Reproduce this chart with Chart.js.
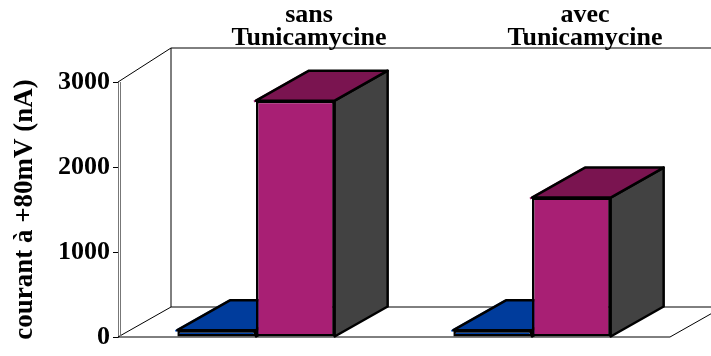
<!DOCTYPE html>
<html>
<head>
<meta charset="utf-8">
<title>courant à +80mV</title>
<script src="https://cdn.jsdelivr.net/npm/chart.js@4.4.0/dist/chart.umd.min.js"></script>
<style>
  html, body { margin: 0; padding: 0; background: #fff; }
  #wrap { width: 711px; height: 356px; position: relative; }
</style>
</head>
<body>
<div id="wrap"><canvas id="myChart"></canvas></div>
<script>
'use strict'

// data
const categories = [['sans', 'Tunicamycine'], ['avec', 'Tunicamycine']];
const blueValues = [80, 80];
const pinkValues = [2780, 1640];
const yTicks = [0, 1000, 2000, 3000];

// depth of the 3d box
const depthX = 53;
const depthY = -30;
const wallRise = -34;

const serif = '"Liberation Serif", "Times New Roman", serif';

const faceColors = [
    { front: '#0042a8', top: '#003c9c', side: '#00348a', edge: '#1a62d6' },
    { front: '#a81f74', top: '#7a1450', side: '#424242', edge: '#a81f74' }
];

function poly(ctx, pts) {
    ctx.beginPath();
    ctx.moveTo(pts[0][0], pts[0][1]);
    for (let i = 1; i < pts.length; i++) ctx.lineTo(pts[i][0], pts[i][1]);
    ctx.closePath();
}

function line(ctx, x1, y1, x2, y2) {
    ctx.beginPath();
    ctx.moveTo(x1, y1);
    ctx.lineTo(x2, y2);
    ctx.stroke();
}

// walls, floor and the top / side faces of every bar
const box3d = {
    id: 'box3d',
    beforeDatasetsDraw(chart) {
        const ctx = chart.ctx;
        const a = chart.chartArea;
        const W = chart.width;
        ctx.save();
        ctx.strokeStyle = '#000';
        ctx.lineWidth = 1;
        // back wall
        line(ctx, a.left, a.top, a.left + depthX, a.top + wallRise);
        line(ctx, a.left + depthX, a.top + wallRise, W, a.top + wallRise);
        line(ctx, a.left + depthX, a.top + wallRise, a.left + depthX, a.bottom + depthY);
        // floor
        line(ctx, a.left + depthX, a.bottom + depthY, W, a.bottom + depthY);
        line(ctx, a.left, a.bottom, a.left + depthX, a.bottom + depthY);
        line(ctx, a.left, a.bottom, a.right, a.bottom);
        line(ctx, a.right, a.bottom, a.right + depthX, a.bottom + depthY);
        // second line of the axis
        ctx.strokeStyle = '#777';
        line(ctx, a.left + 2.5, a.top, a.left + 2.5, a.bottom);

        // depth faces, left to right
        const n = chart.data.labels.length;
        for (let j = 0; j < n; j++) {
            chart.data.datasets.forEach((ds, i) => {
                const bar = chart.getDatasetMeta(i).data[j];
                if (!bar) return;
                const p = bar.getProps(['x', 'y', 'base', 'width'], true);
                const l = p.x - p.width / 2, r = p.x + p.width / 2;
                const t = p.y, b = p.base;
                const c = faceColors[i];
                ctx.lineJoin = 'round';
                // coloured offset edge
                ctx.strokeStyle = c.edge;
                ctx.lineWidth = 2;
                line(ctx, l - 2, t + 1, l + depthX - 2, t + depthY + 1);
                // side
                poly(ctx, [[r, t], [r + depthX, t + depthY], [r + depthX, b + depthY], [r, b]]);
                ctx.fillStyle = c.side;
                ctx.fill();
                ctx.strokeStyle = '#000';
                ctx.lineWidth = 2.5;
                ctx.stroke();
                // top
                poly(ctx, [[l, t], [l + depthX, t + depthY], [r + depthX, t + depthY], [r, t]]);
                ctx.fillStyle = c.top;
                ctx.fill();
                ctx.stroke();
            });
        }
        ctx.restore();
    }
};

const ctx = document.getElementById('myChart').getContext('2d');

const myChart = new Chart(ctx, {
    type: 'bar',
    data: {
        labels: categories,
        datasets: [{
            label: 'serie1',
            data: blueValues,
            backgroundColor: faceColors[0].front,
            borderColor: '#000',
            borderWidth: 2.5,
            borderSkipped: false
        }, {
            label: 'serie2',
            data: pinkValues,
            backgroundColor: faceColors[1].front,
            borderColor: '#000',
            borderWidth: 2.5,
            borderSkipped: false
        }]
    },
    options: {
        responsive: true,
        maintainAspectRatio: false,
        animation: false,
        layout: { padding: { left: 0, right: 41, top: 0, bottom: 19 } },
        datasets: {
            bar: { categoryPercentage: 0.57, barPercentage: 1.0 }
        },
        plugins: {
            legend: { display: false },
            tooltip: { enabled: false }
        },
        scales: {
            x: {
                position: 'top',
                grid: { display: false },
                border: { display: false },
                afterFit(scale) { scale.height = 82; },
                ticks: {
                    color: '#000',
                    padding: 24,
                    labelOffset: depthX,
                    maxRotation: 0,
                    font: { family: serif, size: 26, weight: 'bold', lineHeight: 0.9 }
                }
            },
            y: {
                min: 0,
                max: 3000,
                afterFit(scale) { scale.width = 118; },
                afterBuildTicks(scale) { scale.ticks = yTicks.map(v => ({ value: v })); },
                grid: { drawOnChartArea: false, drawTicks: true, tickLength: 5, color: '#000' },
                border: { display: true, color: '#777', width: 1 },
                ticks: {
                    color: '#000',
                    padding: 3,
                    callback: v => String(v),
                    font: { family: serif, size: 26, weight: 'bold' }
                },
                title: {
                    display: true,
                    text: 'courant à +80mV (nA)',
                    color: '#000',
                    padding: { top: 9, bottom: 0 },
                    font: { family: serif, size: 27, weight: 'bold', lineHeight: 1.2 }
                }
            }
        }
    },
    plugins: [box3d]
});
</script>
</body>
</html>
